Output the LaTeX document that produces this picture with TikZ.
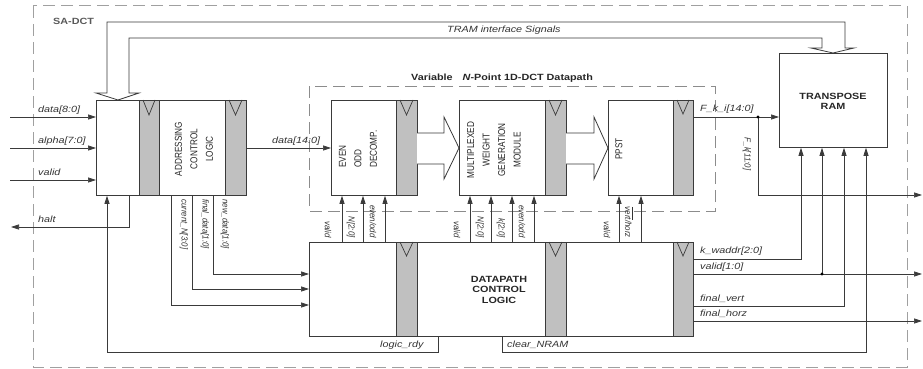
\documentclass[tikz,border=0pt]{standalone}
\usepackage{fontspec}
\setmainfont{Liberation Sans}
\newfontfamily\lblfont[FakeStretch=1.2]{Liberation Sans}
\newfontfamily\rlblfont[FakeStretch=0.9]{Liberation Sans}
\newfontfamily\nfont[FakeStretch=0.82]{Liberation Sans}
\usetikzlibrary{arrows.meta}
\definecolor{ln}{HTML}{3A3A3A}
\definecolor{txt}{HTML}{333333}
\definecolor{bar}{HTML}{C0C0C0}
\definecolor{dsh}{HTML}{A0A0A0}
\tikzset{
  wire/.style={draw=ln, line width=0.7pt},
  arr/.style={wire, -{Triangle[length=8pt,width=5pt]}},
  blk/.style={draw=ln, line width=0.8pt, fill=white, anchor=north west, inner sep=0pt},
  graybar/.style={draw=ln, line width=0.8pt, fill=bar},
  clk/.style={draw=ln, line width=0.7pt},
  hollow/.style={draw=ln, line width=0.8pt, fill=white},
  lbl/.style={font=\lblfont\itshape\fontsize{9}{10}\selectfont, text=txt, inner sep=0pt},
  rlbl/.style={font=\rlblfont\itshape\fontsize{8.8}{10}\selectfont, text=txt, inner sep=0pt, rotate=-90},
  btxt/.style={font=\lblfont\bfseries\fontsize{9}{10.5}\selectfont, text=black!85, inner sep=0pt, align=center},
  ntxt/.style={font=\nfont\fontsize{10}{15.5}\selectfont, text=black!85, inner sep=0pt, rotate=90},
  dbox/.style={draw=dsh, line width=1pt, dash pattern=on 12pt off 6pt},
  dotm/.style={fill=black, draw=none}
}
\begin{document}
\begin{tikzpicture}[x=1pt,y=-1pt]
\useasboundingbox (0,0) rectangle (923,369);
% outer dashed frame
\draw[dbox] (33,6) rectangle (907,367);
\node[btxt, text=black!65, anchor=base west] (sadct) at (53,25) {SA-DCT};

% TRAM interface bus (hollow, double ended)
\draw[hollow, fill=none] (107,93) -- (107,22) -- (845,22) -- (845,48) -- (854,48) -- (833,53) -- (811,48) -- (822,48) -- (822,38) -- (129,38) -- (129,93) -- (139,93) -- (118,100) -- (96,93) -- cycle;
\node[lbl, anchor=base west] (tramlbl) at (447,33) {TRAM interface Signals};

% datapath dashed box
\draw[dbox, draw=black!45] (309,86) rectangle (715,211);
\node[btxt, anchor=base west] (dphead) at (411,81) {Variable\hspace{1.1em}\textit{N}-Point 1D-DCT Datapath};

% addressing block
\node[blk, minimum width=150pt, minimum height=95pt] (addr) at (96,100) {};
\filldraw[graybar] (139,100) rectangle (159,195);
\filldraw[graybar] (225,100) rectangle (246,195);
\draw[clk] (143,100) -- (149,115) -- (155,100);
\draw[clk] (229,100) -- (235.5,115) -- (242,100);
\node[ntxt, align=center] (addrtxt) at (194,149) {ADDRESSING\\CONTROL\\LOGIC};

% even odd decomposition
\node[blk, minimum width=86pt, minimum height=95pt] (eod) at (331,100) {};
\filldraw[graybar] (396,100) rectangle (417,195);
\draw[clk] (400,100) -- (406.5,115) -- (413,100);
\node[ntxt, align=left, anchor=west] (eodtxt) at (358,168) {EVEN\\ODD\\DECOMP.};

% multiplexed weight generation module
\node[blk, minimum width=107pt, minimum height=95pt] (mwg) at (459,100) {};
\filldraw[graybar] (545,100) rectangle (566,195);
\draw[clk] (549,100) -- (555.5,115) -- (562,100);
\node[ntxt, align=center] (mwgtxt) at (494,150) {MULTIPLEXED\\WEIGHT\\GENERATION\\MODULE};

% PPST
\node[blk, minimum width=85pt, minimum height=95pt] (ppst) at (608,100) {};
\filldraw[graybar] (673,100) rectangle (693,195);
\draw[clk] (677,100) -- (683,114) -- (689,100);
\node[ntxt] (ppsttxt) at (619,149) {PPST};

% hollow data arrows
\draw[hollow] (417,133) -- (444,133) -- (444,117) -- (459,148) -- (444,179) -- (444,164) -- (417,164);
\draw[hollow] (566,133) -- (594,133) -- (594,117) -- (608,148) -- (594,179) -- (594,164) -- (566,164);

% transpose RAM
\node[blk, minimum width=108pt, minimum height=94pt] (tram) at (779,53) {};
\node[btxt] (tramtxt) at (833,101.5) {TRANSPOSE\\RAM};

% datapath control logic
\node[blk, minimum width=384pt, minimum height=94pt] (dcl) at (309,242) {};
\filldraw[graybar] (396,242) rectangle (417,336);
\filldraw[graybar] (545,242) rectangle (566,336);
\filldraw[graybar] (673,242) rectangle (693,336);
\draw[clk] (400,242) -- (406.5,256) -- (413,242);
\draw[clk] (549,242) -- (555.5,256) -- (562,242);
\draw[clk] (677,242) -- (683,256) -- (689,242);
\node[btxt] (dcltxt) at (499,289.5) {DATAPATH\\CONTROL\\LOGIC};

% inputs to addressing block
\coordinate (in1) at (10,117);
\coordinate (in2) at (10,148);
\coordinate (in3) at (10,180);
\draw[arr] (in1) -- (in1 -| addr.west);
\draw[arr] (in2) -- (in2 -| addr.west);
\draw[arr] (in3) -- (in3 -| addr.west);
\node[lbl, anchor=base west] at (38,112) {data[8:0]};
\node[lbl, anchor=base west] at (38,143) {alpha[7:0]};
\node[lbl, anchor=base west] at (38,175) {valid};

% halt
\coordinate (haltout) at (11,227);
\draw[arr] (addr.south -| 129,0) |- (haltout);
\node[lbl, anchor=base west] at (38,222) {halt};

% data[14:0]
\draw[arr] (addr.east |- 0,148) -- (eod.west |- 0,148);
\node[lbl, anchor=base west] at (272,143) {data[14:0]};

% addressing -> DCL
\draw[arr] (addr.south -| 171,0) |- (dcl.west |- 0,305);
\draw[arr] (addr.south -| 192,0) |- (dcl.west |- 0,289);
\draw[arr] (addr.south -| 213,0) |- (dcl.west |- 0,274);
\node[rlbl, anchor=west] at (184,199) {current\_N[3:0]};
\node[rlbl, anchor=west] at (205,199) {final\_data[1:0]};
\node[rlbl, anchor=west] at (225,199) {new\_data[1:0]};

% DCL -> EOD
\foreach \xx in {342,363,385} \draw[arr] (dcl.north -| \xx,0) -- (eod.south -| \xx,0);
\node[rlbl, anchor=east] at (328,238) {valid};
\node[rlbl, anchor=east] at (351,238) {N[2:0]};
\node[rlbl, anchor=east] at (373,238) {even/odd};

% DCL -> MWG
\foreach \xx in {470,491,512,534} \draw[arr] (dcl.north -| \xx,0) -- (mwg.south -| \xx,0);
\node[rlbl, anchor=east] at (457,238) {valid};
\node[rlbl, anchor=east] at (480,238) {N[2:0]};
\node[rlbl, anchor=east] at (501,238) {k[2:0]};
\node[rlbl, anchor=east] at (522,238) {even/odd};

% DCL -> PPST
\foreach \xx in {619,641} \draw[arr] (dcl.north -| \xx,0) -- (ppst.south -| \xx,0);
\node[rlbl, anchor=east] at (607,238) {valid};
\node[rlbl, anchor=east] at (629,238) {$\overline{\hbox{vert}}$/horz};

% F_k_i output
\coordinate (fkdot) at (758,117);
\coordinate (fkout) at (922,195);
\draw[arr] (ppst.east |- fkdot) -- (tram.west |- fkdot);
\draw[arr] (fkdot) |- (fkout);
\fill[dotm] (fkdot) circle (1.6pt);
\node[lbl, anchor=base west] at (700,111) {F\_k\_i[14:0]};
\node[rlbl] at (747,154) {F\_k[11:0]};

% DCL outputs
\draw[arr] (dcl.east |- 0,259) -| (tram.south -| 801,0);
\coordinate (vdot) at (822,274);
\coordinate (vout) at (922,274);
\draw[arr] (dcl.east |- vdot) -- (vout);
\draw[arr] (vdot) -- (tram.south -| vdot);
\fill[dotm] (vdot) circle (1.6pt);
\draw[arr] (dcl.east |- 0,306) -| (tram.south -| 844,0);
\coordinate (hout) at (922,321);
\draw[arr] (dcl.east |- hout) -- (hout);
\node[lbl, anchor=base west] at (700,253) {k\_waddr[2:0]};
\node[lbl, anchor=base west] at (700,269) {valid[1:0]};
\node[lbl, anchor=base west] at (700,301) {final\_vert};
\node[lbl, anchor=base west] at (700,316) {final\_horz};

% clear_NRAM and logic_rdy
\draw[arr] (dcl.south -| 502,0) |- (866,352) -- (tram.south -| 866,0);
\draw[arr] (dcl.south -| 438,0) |- (107,352) -- (addr.south -| 107,0);
\node[lbl, anchor=base west] at (380,347) {logic\_rdy};
\node[lbl, anchor=base west] at (507,347) {clear\_NRAM};
\end{tikzpicture}
\end{document}
